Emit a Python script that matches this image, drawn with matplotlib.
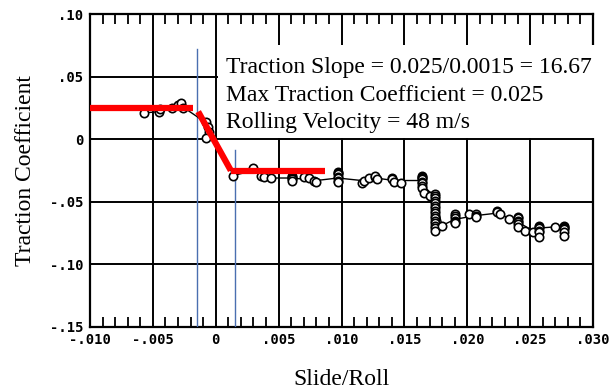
import matplotlib
matplotlib.use("Agg")
import matplotlib.pyplot as plt
from matplotlib.patches import Rectangle
from matplotlib.ticker import MultipleLocator, FixedLocator

# ---- data ----
pts_x = [-0.0057, -0.0045, -0.0044, -0.0035, -0.0030, -0.0028, -0.0026, -0.0008, -0.0006, -0.0005,
         -0.0008, 0.0014, 0.0030, 0.0036, 0.0038, 0.0044,
         0.0061, 0.0061, 0.0061, 0.0061, 0.0061, 0.0070, 0.0074, 0.0078, 0.0080,
         0.0097, 0.0097, 0.0097, 0.0097, 0.0097, 0.0097, 0.0097,
         0.0116, 0.0118, 0.0122, 0.0127, 0.0127, 0.0128, 0.0140, 0.0140, 0.0142, 0.0147,
         0.0164, 0.0164, 0.0164, 0.0164, 0.0164, 0.0164, 0.0164, 0.0164, 0.0166, 0.0170,
         0.0174, 0.0174, 0.0174, 0.0174, 0.0174, 0.0174, 0.0174, 0.0174, 0.0174, 0.0174,
         0.0174, 0.0174, 0.0174, 0.0174, 0.0174, 0.0174, 0.0180,
         0.0190, 0.0190, 0.0190, 0.0190, 0.0190, 0.0190, 0.0201, 0.0207, 0.0207, 0.0207,
         0.0224, 0.0224, 0.0226, 0.0233,
         0.0240, 0.0240, 0.0240, 0.0240, 0.0240, 0.0240, 0.0246, 0.0252,
         0.0257, 0.0257, 0.0257, 0.0257, 0.0257, 0.0257, 0.0270,
         0.0277, 0.0277, 0.0277, 0.0277, 0.0277, 0.0277]
pts_y = [0.021, 0.0215, 0.024, 0.025, 0.027, 0.029, 0.025, 0.014, 0.010, 0.006,
         0.001, -0.029, -0.023, -0.029, -0.030, -0.031,
         -0.029, -0.030, -0.031, -0.032, -0.033, -0.030, -0.031, -0.033, -0.034,
         -0.026, -0.027, -0.028, -0.030, -0.031, -0.033, -0.034,
         -0.035, -0.033, -0.031, -0.030, -0.029, -0.032, -0.031, -0.032, -0.034, -0.035,
         -0.029, -0.030, -0.031, -0.032, -0.034, -0.035, -0.037, -0.039, -0.043, -0.045,
         -0.044, -0.045, -0.047, -0.049, -0.051, -0.053, -0.055, -0.057, -0.059, -0.061,
         -0.063, -0.065, -0.067, -0.069, -0.071, -0.073, -0.069,
         -0.060, -0.061, -0.063, -0.065, -0.066, -0.067, -0.060, -0.060, -0.061, -0.062,
         -0.057, -0.058, -0.060, -0.064,
         -0.062, -0.063, -0.065, -0.066, -0.068, -0.070, -0.073, -0.074,
         -0.069, -0.070, -0.071, -0.073, -0.074, -0.078, -0.070,
         -0.069, -0.070, -0.071, -0.072, -0.074, -0.077]

mean_x = [-0.0057, -0.0045, -0.0028, -0.0006, 0.0014, 0.0030, 0.0044, 0.0061, 0.0080, 0.0097,
          0.0116, 0.0127, 0.0142, 0.0164, 0.0164, 0.0174, 0.0180, 0.0190, 0.0207, 0.0224,
          0.0240, 0.0252, 0.0257, 0.0270, 0.0277]
mean_y = [0.021, 0.022, 0.027, 0.012, -0.029, -0.025, -0.031, -0.031, -0.033, -0.031,
          -0.033, -0.031, -0.033, -0.033, -0.036, -0.046, -0.069, -0.064, -0.061, -0.059,
          -0.066, -0.073, -0.071, -0.070, -0.071]

red_flat1_x = [-0.010, -0.0018]
red_flat1_y = [0.025, 0.025]
red_slope_x = [-0.0014, 0.0012]
red_slope_y = [0.022, -0.025]
red_flat2_x = [0.0012, 0.0087]
red_flat2_y = [-0.025, -0.025]

blue_x = [-0.0015, 0.0015]
blue_top = [0.072, -0.009]

xticks = [-0.010, -0.005, 0.0, 0.005, 0.010, 0.015, 0.020, 0.025, 0.030]
xticklabels = ["-.010", "-.005", "0", ".005", ".010", ".015", ".020", ".025", ".030"]
yticks = [0.10, 0.05, 0.0, -0.05, -0.10, -0.15]
yticklabels = [".10", ".05", "0", "-.05", "-.10", "-.15"]

annot_lines = ["Traction Slope = 0.025/0.0015 = 16.67",
               "Max Traction Coefficient = 0.025",
               "Rolling Velocity = 48 m/s"]

# ---- figure ----
fig = plt.figure(figsize=(6.13, 3.92), dpi=100)
ax = fig.add_axes([90/613, 1-327/392, 503/613, 313/392])
ax.set_xlim(-0.010, 0.030)
ax.set_ylim(-0.15, 0.10)

for s in ax.spines.values():
    s.set_linewidth(1.6)
    s.set_color("black")

# grid
for gx in xticks[1:-1]:
    ax.axvline(gx, color="black", lw=1.4, zorder=1)
for gy in yticks[1:-1]:
    ax.axhline(gy, color="black", lw=1.4, zorder=1)

# ticks
ax.set_xticks(xticks)
ax.set_xticklabels(xticklabels)
ax.set_yticks(yticks)
ax.set_yticklabels(yticklabels)
ax.tick_params(axis="x", which="major", length=0, pad=4)
ax.tick_params(axis="y", which="major", length=0, pad=5)
for lab in ax.get_xticklabels() + ax.get_yticklabels():
    lab.set_fontfamily("DejaVu Sans Mono")
    lab.set_fontweight("bold")
    lab.set_fontsize(10)

# minor ticks on top and bottom (inward)
ax.xaxis.set_minor_locator(MultipleLocator(0.001))
ax.tick_params(axis="x", which="minor", direction="in", length=7, width=1.3,
               top=True, bottom=True, color="black")
ax.yaxis.set_minor_locator(FixedLocator([]))

# white box behind the annotation
ax.add_patch(Rectangle((0.254, 0.604), 0.76, 0.297, transform=ax.transAxes,
                       facecolor="white", edgecolor="none", zorder=3, clip_on=False))
for i, t in enumerate(annot_lines):
    ax.text(0.27, 0.862 - i*0.088, t, transform=ax.transAxes, fontsize=17,
            family="Liberation Serif", va="top", ha="left", zorder=4)

# blue lines
for bx, bt in zip(blue_x, blue_top):
    ax.plot([bx, bx], [-0.15, bt], color="#4a6fb0", lw=1.0, zorder=5)

# data
ax.plot(mean_x, mean_y, color="black", lw=1.0, zorder=6)
ax.plot(pts_x, pts_y, linestyle="none", marker="o", markersize=6,
        markerfacecolor="white", markeredgecolor="black", markeredgewidth=1.2, zorder=7)

# red fit
for rx, ry in [(red_flat1_x, red_flat1_y), (red_slope_x, red_slope_y), (red_flat2_x, red_flat2_y)]:
    ax.plot(rx, ry, color="#ff0000", lw=4.5, solid_capstyle="butt", zorder=8)

ax.set_xlabel("Slide/Roll", family="Liberation Serif", fontsize=17, labelpad=16)
ax.set_ylabel("Traction Coefficient", family="Liberation Serif", fontsize=17, labelpad=10)

fig.savefig("out.png", dpi=100)
